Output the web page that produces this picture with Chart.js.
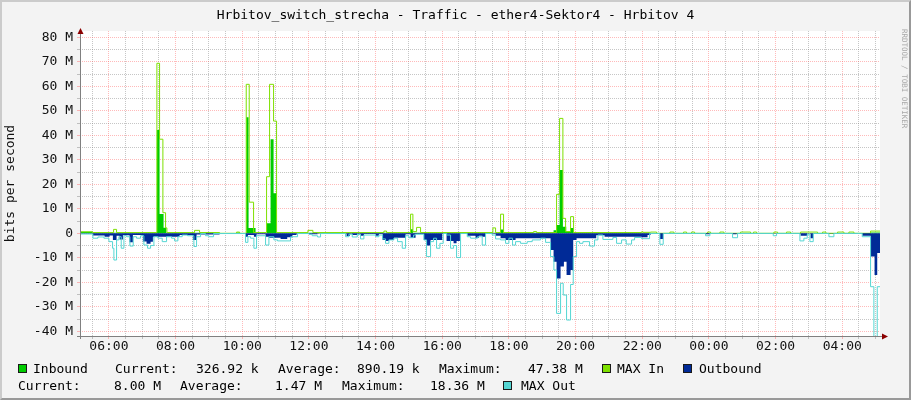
<!DOCTYPE html>
<html><head><meta charset="utf-8">
<script src="https://cdn.jsdelivr.net/npm/chart.js@4.4.1/dist/chart.umd.min.js"></script>
<style>
html,body{margin:0;padding:0;width:911px;height:400px;overflow:hidden;background:#F3F3F3;}
#box{position:absolute;left:0;top:0;width:911px;height:400px;}
#frame{position:absolute;left:0;top:0;width:911px;height:400px;box-sizing:border-box;border:2px solid;border-color:#CBCBCB #999999 #999999 #CBCBCB;pointer-events:none;}
.t{position:absolute;font-family:'DejaVu Sans Mono',monospace;font-size:13px;line-height:15px;white-space:pre;color:#000;}
.sw{position:absolute;width:9px;height:9px;box-sizing:border-box;border:1px solid #1a1a1a;}
#title{left:0;width:911px;text-align:center;top:7px;}
#wm{position:absolute;left:900px;top:29px;font-family:'DejaVu Sans Mono',monospace;font-size:7.5px;color:#A8A8A8;writing-mode:vertical-rl;white-space:pre;line-height:8px;}
</style></head><body>
<div id="box"><canvas id="c" width="911" height="400"></canvas></div>
<div class="t" id="title">Hrbitov_switch_strecha - Traffic - ether4-Sektor4 - Hrbitov 4</div>
<div id="wm">RRDTOOL / TOBI OETIKER</div>

<div class="sw" style="left:18px;top:364px;background:#00CC00"></div>
<div class="t" style="left:33px;top:361px">Inbound</div>
<div class="t" style="left:115px;top:361px">Current:</div>
<div class="t" style="left:196px;top:361px">326.92 k</div>
<div class="t" style="left:278px;top:361px">Average:</div>
<div class="t" style="left:357px;top:361px">890.19 k</div>
<div class="t" style="left:439px;top:361px">Maximum:</div>
<div class="t" style="left:528px;top:361px">47.38 M</div>
<div class="sw" style="left:602px;top:364px;background:#7EE000"></div>
<div class="t" style="left:617px;top:361px">MAX In</div>
<div class="sw" style="left:683px;top:364px;background:#002A97"></div>
<div class="t" style="left:699px;top:361px">Outbound</div>

<div class="t" style="left:18px;top:378px">Current:</div>
<div class="t" style="left:114px;top:378px">8.00 M</div>
<div class="t" style="left:180px;top:378px">Average:</div>
<div class="t" style="left:275px;top:378px">1.47 M</div>
<div class="t" style="left:342px;top:378px">Maximum:</div>
<div class="t" style="left:430px;top:378px">18.36 M</div>
<div class="sw" style="left:503px;top:381px;background:#55D6D3"></div>
<div class="t" style="left:521px;top:378px">MAX Out</div>
<div id="frame"></div>

<script>
// Time axis in hours since midnight of the first day (values > 24 are the next day)
const START = 5.133;
const END = 29.133;

// Inbound (bits/s, in M) — segment start times and values
const inTime = [5.13,5.51,7.44,7.52,7.64,7.72,9.32,9.83,9.92,10.12,10.19,10.40,10.74,10.85,10.94,11.03,15.05,15.12,17.75,17.84,19.34,19.43,19.52,19.62,19.72,19.85,19.94,22.25,28.85];
const inVal  = [0.6,0.2,42.2,7.9,2.3,0.2,0,0.3,0,47.4,2.2,0,4.1,38.4,16.3,0.2,1.7,0.2,1.6,0.2,1.2,3.4,25.8,2.7,0.8,2.2,0.2,0.1,0.33];

// MAX In
const maxInTime = [5.13,5.51,6.14,6.23,7.44,7.52,7.62,7.70,7.74,8.57,8.72,9.32,9.83,9.92,10.12,10.21,10.34,10.73,10.82,10.94,11.03,11.97,12.12,14.25,14.33,15.05,15.12,15.23,15.35,17.52,17.60,17.75,17.84,18.74,18.83,19.43,19.52,19.62,19.70,19.85,19.94,21.98,22.02,22.25,22.43,22.83,22.95,23.24,23.33,23.48,23.57,23.96,24.05,24.33,24.45,24.95,25.25,25.34,25.43,25.95,26.06,26.33,26.45,26.75,27.26,27.41,27.51,27.86,28.05,28.20,28.35,28.85];
const maxInVal  = [0.6,0.3,1.6,0.3,69.4,38.4,8.4,2.2,0.3,1.2,0.3,0,0.5,0,60.8,12.7,0.3,23.1,60.8,45.8,0.3,1.2,0.3,0.9,0.3,7.8,0.7,2.4,0.3,2.2,0.3,7.8,0.3,0.7,0.3,15.9,46.9,6.1,0.7,6.8,0.3,0.6,0.4,0.5,0,0.5,0,0.5,0,0.5,0,0.5,0,0.5,0,0.5,0,0.5,0,0.5,0,0.5,0,0.5,0,0.5,0,0.5,0,0.5,0,0.9];

// Outbound (drawn negative)
const outTime = [5.13,5.52,5.87,6.02,6.12,6.23,6.32,6.42,6.62,6.72,7.02,7.13,7.25,7.32,8.12,8.52,8.63,9.32,10.10,10.17,10.35,10.43,10.70,10.80,11.15,11.35,11.50,11.63,12.00,12.26,13.13,13.23,13.30,13.45,13.55,13.65,14.00,14.10,14.21,14.30,14.40,14.55,14.90,15.05,15.20,15.45,15.53,15.65,16.00,16.13,16.34,16.43,16.53,16.75,17.00,17.10,17.20,17.30,17.60,17.75,17.90,18.20,19.25,19.34,19.43,19.55,19.65,19.73,19.85,19.93,20.03,20.62,20.87,21.98,22.16,22.25,22.53,22.63,23.90,24.03,24.71,24.83,26.75,26.95,27.05,27.13,28.60,28.85,28.97,29.05];
const outVal  = [-0.2,-0.9,-1.4,-0.9,-2.7,-1.0,-2.5,-0.8,-3.7,-0.7,-3.3,-4.3,-3.5,-1.4,-0.7,-2.7,-0.5,-0.1,-1.4,-0.7,-1.4,-0.4,-1.4,-1.8,-2.3,-1.6,-0.7,-0.1,-0.4,-0.1,-1.1,-0.2,-0.7,-0.2,-1.0,-0.3,-1.0,-0.3,-2.7,-3.1,-2.7,-1.8,-0.4,-1.8,-0.3,-2.7,-5.0,-2.7,-0.2,-3.1,-4.1,-3.1,-0.2,-1.0,-1.8,-1.0,-1.4,-0.2,-1.0,-2.0,-2.7,-2.0,-6.8,-11.6,-18.4,-13.6,-11.6,-17.0,-15.0,-2.7,-2.0,-0.8,-1.4,-1.6,-0.7,-0.1,-2.3,-0.1,-0.4,-0.1,-0.4,-0.1,-1.0,-0.1,-2.0,-0.1,-1.0,-9.5,-17.0,-8.0];

// MAX Out (drawn negative)
const maxOutTime = [5.13,5.52,5.67,5.85,6.00,6.11,6.15,6.23,6.30,6.37,6.45,6.53,6.63,6.73,6.83,6.95,7.05,7.16,7.25,7.35,7.47,7.60,7.73,7.88,7.97,8.07,8.20,8.36,8.55,8.63,8.75,8.90,9.00,9.14,10.10,10.17,10.25,10.35,10.43,10.70,10.80,10.95,11.06,11.45,11.66,12.00,12.10,12.26,12.35,13.10,13.20,13.30,13.45,13.55,13.65,14.00,14.10,14.21,14.30,14.40,14.55,14.66,14.80,14.90,15.00,15.14,15.20,15.45,15.53,15.65,15.74,15.83,15.93,16.03,16.13,16.25,16.34,16.43,16.55,16.75,16.85,17.06,17.20,17.30,17.50,17.60,17.75,17.90,18.00,18.11,18.20,18.35,18.55,18.70,18.95,19.10,19.25,19.35,19.43,19.55,19.63,19.73,19.85,19.93,20.03,20.12,20.22,20.42,20.57,20.67,20.82,21.12,21.23,21.38,21.52,21.68,21.77,21.98,22.22,22.53,22.63,23.90,24.03,24.71,24.86,25.93,26.03,26.73,26.85,26.95,27.03,27.13,27.60,27.75,28.60,28.85,28.95,29.05];
const maxOutVal  = [-0.3,-2.0,-1.5,-2.0,-3.4,-6.1,-10.9,-2.7,-1.4,-6.1,-1.0,-1.4,-5.2,-1.4,-2.0,-1.0,-4.8,-6.1,-5.0,-1.4,-2.0,-3.4,-1.4,-2.0,-3.1,-1.4,-0.7,-1.0,-5.4,-1.4,-0.1,-1.0,-1.4,-0.1,-3.7,-1.4,-2.0,-6.1,-1.0,-4.8,-1.4,-2.7,-3.1,-1.4,-0.1,-0.4,-1.0,-1.5,-0.1,-1.4,-0.4,-1.5,-0.5,-2.3,-0.7,-1.4,-0.7,-2.3,-4.1,-2.7,-2.0,-3.4,-6.1,-1.0,-1.8,-0.7,-0.4,-2.7,-9.5,-3.4,-2.0,-6.1,-4.1,-0.1,-0.7,-6.1,-5.0,-9.9,-0.1,-1.4,-2.0,-1.4,-4.8,-0.1,-0.7,-2.3,-2.7,-4.1,-2.0,-4.8,-3.4,-4.1,-3.4,-2.7,-2.0,-3.7,-9.5,-15.0,-32.7,-20.4,-25.2,-35.4,-20.9,-9.5,-3.4,-4.1,-3.4,-5.2,-2.7,-0.7,-2.5,-1.7,-4.1,-2.7,-4.4,-2.7,-1.7,-2.2,-0.05,-4.5,-0.05,-1.0,-0.05,-1.8,-0.05,-1.0,-0.05,-3.1,-2.0,-0.4,-3.4,-0.05,-1.4,-0.05,-1.4,-21.8,-45,-21.8];

// Axis labels
const xLabelHours = [6,8,10,12,14,16,18,20,22,24,26,28];
const xLabelText  = ['06:00','08:00','10:00','12:00','14:00','16:00','18:00','20:00','22:00','00:00','02:00','04:00'];
const yLabelValues = [80,70,60,50,40,30,20,10,0,-10,-20,-30,-40];
const yLabelText   = ['80 M','70 M','60 M','50 M','40 M','30 M','20 M','10 M','0','-10 M','-20 M','-30 M','-40 M'];
const Y_MIN = -41.92, Y_MAX = 82.57;

function series(t, v) {
  const pts = t.map((x, i) => ({x: x, y: v[i]}));
  pts.push({x: END, y: v[v.length - 1]});
  return pts;
}
const RED = 'rgba(255,90,90,0.42)';
const GRAY = 'rgba(120,120,120,0.42)';
const near = (a, b) => Math.abs(a - b) < 1e-6;
const FONT = {family: "'DejaVu Sans Mono', monospace", size: 13};

const xGrid = []; for (let h = 5.5; h <= END; h += 0.5) xGrid.push(h);
const yGrid = []; for (let v = -40; v <= 80; v += 5) yGrid.push(v);

const framePlugin = {
  id: 'framePlugin',
  beforeDraw(chart) {
    const {ctx, chartArea: a} = chart;
    ctx.save();
    ctx.fillStyle = '#FFFFFF';
    ctx.fillRect(a.left, a.top, a.right - a.left, a.bottom - a.top);
    ctx.restore();
  },
  afterDatasetsDraw(chart) {
    const {ctx, chartArea: a} = chart;
    ctx.save();
    ctx.strokeStyle = '#808080';
    ctx.lineWidth = 1;
    ctx.beginPath();
    ctx.moveTo(a.left - 3, a.bottom + 0.5); ctx.lineTo(a.right + 4, a.bottom + 0.5);
    ctx.moveTo(a.left + 0.5, a.bottom + 3); ctx.lineTo(a.left + 0.5, a.top - 1);
    ctx.stroke();
    ctx.fillStyle = '#8B0000';
    ctx.beginPath();
    ctx.moveTo(a.left + 0.5, a.top - 3);
    ctx.lineTo(a.left - 2.5, a.top + 3);
    ctx.lineTo(a.left + 3.5, a.top + 3);
    ctx.closePath(); ctx.fill();
    ctx.beginPath();
    ctx.moveTo(a.right + 8, a.bottom + 0.5);
    ctx.lineTo(a.right + 2, a.bottom - 2.5);
    ctx.lineTo(a.right + 2, a.bottom + 3.5);
    ctx.closePath(); ctx.fill();
    ctx.restore();
  }
};

new Chart(document.getElementById('c'), {
  type: 'line',
  data: {
    datasets: [
      {label: 'Inbound', data: series(inTime, inVal), stepped: true, fill: 'origin', backgroundColor: '#00CC00', borderColor: 'rgba(0,0,0,0)', borderWidth: 0, pointRadius: 0, order: 4},
      {label: 'MAX In', data: series(maxInTime, maxInVal), stepped: true, fill: false, borderColor: '#7EE000', borderWidth: 1, pointRadius: 0, order: 3},
      {label: 'Outbound', data: series(outTime, outVal), stepped: true, fill: 'origin', backgroundColor: '#002A97', borderColor: 'rgba(0,0,0,0)', borderWidth: 0, pointRadius: 0, order: 2},
      {label: 'MAX Out', data: series(maxOutTime, maxOutVal), stepped: true, fill: false, borderColor: '#55D6D3', borderWidth: 1, pointRadius: 0, order: 1}
    ]
  },
  options: {
    responsive: false,
    animation: false,
    devicePixelRatio: 1,
    events: [],
    layout: {padding: {left: 0, top: 31, right: 31, bottom: 0}},
    plugins: {legend: {display: false}, tooltip: {enabled: false}},
    scales: {
      x: {
        type: 'linear', min: START, max: END,
        afterBuildTicks: s => { s.ticks = xGrid.map(v => ({value: v})); },
        afterFit: s => { s.height = 64; },
        grid: {
          color: c => (c.tick && near(c.tick.value / 2, Math.round(c.tick.value / 2))) ? RED : GRAY,
          lineWidth: 1, tickLength: 3
        },
        border: {display: false, dash: [1, 1]},
        ticks: {
          autoSkip: false, maxRotation: 0, minRotation: 0, padding: 0, color: '#111', font: FONT,
          callback: v => { const i = xLabelHours.findIndex(h => near(h, v)); return i >= 0 ? xLabelText[i] : ''; }
        }
      },
      y: {
        type: 'linear', min: Y_MIN, max: Y_MAX,
        afterBuildTicks: s => { s.ticks = yGrid.map(v => ({value: v})); },
        afterFit: s => { s.width = 80; },
        grid: {
          color: c => (c.tick && c.tick.value % 10 === 0) ? RED : GRAY,
          lineWidth: 1, tickLength: 3
        },
        border: {display: false, dash: [1, 1]},
        title: {display: true, text: 'bits per second', color: '#111', font: FONT, padding: {top: 3, bottom: 0}},
        ticks: {
          autoSkip: false, padding: 4, color: '#111', font: FONT,
          callback: v => { const i = yLabelValues.indexOf(v); return i >= 0 ? yLabelText[i] : ''; }
        }
      }
    }
  },
  plugins: [framePlugin]
});
</script>
</body></html>
